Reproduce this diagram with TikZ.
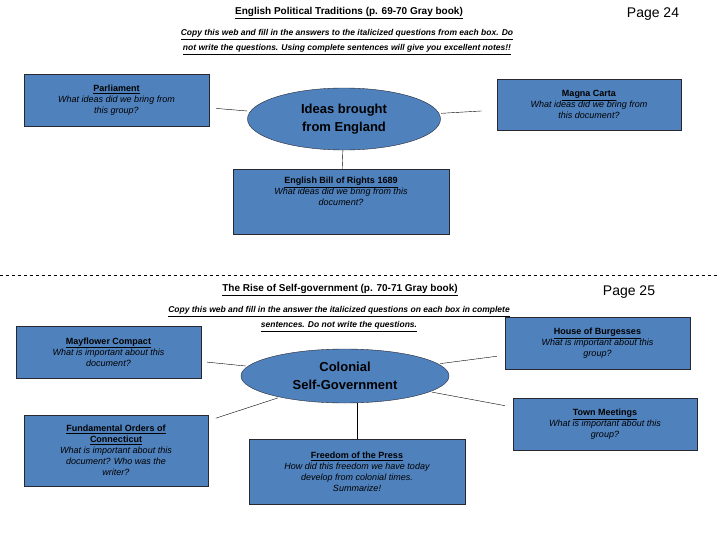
\documentclass[tikz,border=0pt]{standalone}
\usepackage{fontspec}
\setmainfont{Liberation Sans}
\usepackage{xcolor}
\definecolor{boxblue}{RGB}{79, 129, 189}
\definecolor{boxline}{RGB}{40, 40, 50}
\usetikzlibrary{shapes.geometric, positioning}
\tikzstyle{topic} = [
    draw=boxline,
    fill=boxblue,
    rectangle,
    align=center,
    inner sep=2pt,
    anchor=north west,
    font=\fontsize{9}{11}\selectfont
]
\tikzstyle{hub} = [
    draw=boxline,
    fill=boxblue,
    ellipse,
    align=center,
    inner sep=0pt,
    font=\bfseries\fontsize{13}{18}\selectfont
]
\tikzstyle{link} = [
    thin,
    black
]
\newcommand{\boxhead}[1]{\textbf{\underline{#1}}}

\begin{document}
\begin{tikzpicture}[x=1pt, y=-1pt]
        \useasboundingbox (0,0) rectangle (720,540);

        % Page 24 headings
        \node[font=\bfseries\fontsize{10}{12}\selectfont] (title1) at (349,13) {\underline{English Political Traditions (p. 69-70 Gray book)}};
        \node[font=\fontsize{14}{16}\selectfont] (page1) at (653,14) {Page 24};
        \node[font=\bfseries\itshape\fontsize{8.5}{15}\selectfont, align=center] (intro1) at (347,42)
            {\underline{Copy this web and fill in the answers to the italicized questions from  each box.  Do}\\
             \underline{not write the questions.  Using complete sentences will give you excellent notes!!}};

        % Page 24 web
        \node[hub, minimum width=193, minimum height=62] (ideas) at (344,119) {Ideas brought\\from England};
        \node[topic, minimum width=185, minimum height=52, anchor=north] (parl) at (116.5,74)
            {\boxhead{Parliament}\\\itshape What ideas did we bring from\\\itshape this group?};
        \node[topic, minimum width=184, minimum height=51, anchor=north] (magna) at (589,79)
            {\boxhead{Magna Carta}\\\itshape What ideas did we bring from\\\itshape this document?};
        \node[topic, minimum width=216, minimum height=65, anchor=north] (bill) at (341,169)
            {\boxhead{English Bill of Rights 1689}\\\itshape What ideas did we bring from this\\\itshape document?\\[10pt]};

        \draw[link, shorten <=7pt, shorten >=3pt] (parl) -- (ideas);
        \draw[link, shorten <=15pt, shorten >=2pt] (magna) -- (ideas);
        \draw[link] (ideas) -- (bill);

        % cut line
        \draw[dashed, thin] (0,275) -- (720,275);

        % Page 25 headings
        \node[font=\bfseries\fontsize{10}{12}\selectfont] (title2) at (340,290) {\underline{The Rise of Self-government (p. 70-71 Gray book)}};
        \node[font=\fontsize{14}{16}\selectfont] (page2) at (629,292) {Page 25};
        \node[font=\bfseries\itshape\fontsize{8.5}{15}\selectfont, align=center] (intro2) at (339,319)
            {\underline{Copy this web and fill in the answer the italicized questions on each box in complete}\\
             \underline{sentences.  Do not write the questions.}};

        % Page 25 web
        \node[hub, minimum width=208, minimum height=54] (colonial) at (345,376) {Colonial\\Self-Government};
        \node[topic, minimum width=185, minimum height=52, anchor=north] (mayflower) at (108.5,326)
            {\boxhead{Mayflower Compact}\\\itshape What is important about this\\\itshape document?};
        \node[topic, minimum width=185, minimum height=52, anchor=north] (burgess) at (597.5,317)
            {\boxhead{House of Burgesses}\\\itshape What is important about this\\\itshape group?};
        \node[topic, minimum width=184, minimum height=52, anchor=north] (town) at (605,398)
            {\boxhead{Town Meetings}\\\itshape What is important about this\\\itshape group?};
        \node[topic, minimum width=184, minimum height=71, anchor=north] (orders) at (116,415)
            {\boxhead{Fundamental Orders of}\\\boxhead{Connecticut}\\\itshape What is important about this\\\itshape document?  Who was the\\\itshape writer?};
        \node[topic, minimum width=216, minimum height=65, anchor=north] (press) at (357,439)
            {\boxhead{Freedom of the Press}\\\itshape How did this freedom we have today\\\itshape develop from colonial times.\\\itshape Summarize!};

        \draw[link, shorten <=6pt, shorten >=2pt] (mayflower) -- (colonial);
        \draw[link, shorten <=8pt, shorten >=2pt] (burgess) -- (colonial);
        \draw[link, shorten <=8pt, shorten >=2pt] (town) -- (colonial);
        \draw[link, shorten <=8pt, shorten >=2pt] (orders) -- (colonial);
        \draw[link] (colonial.south -| press.north) -- (press);
    \end{tikzpicture}
\end{document}
